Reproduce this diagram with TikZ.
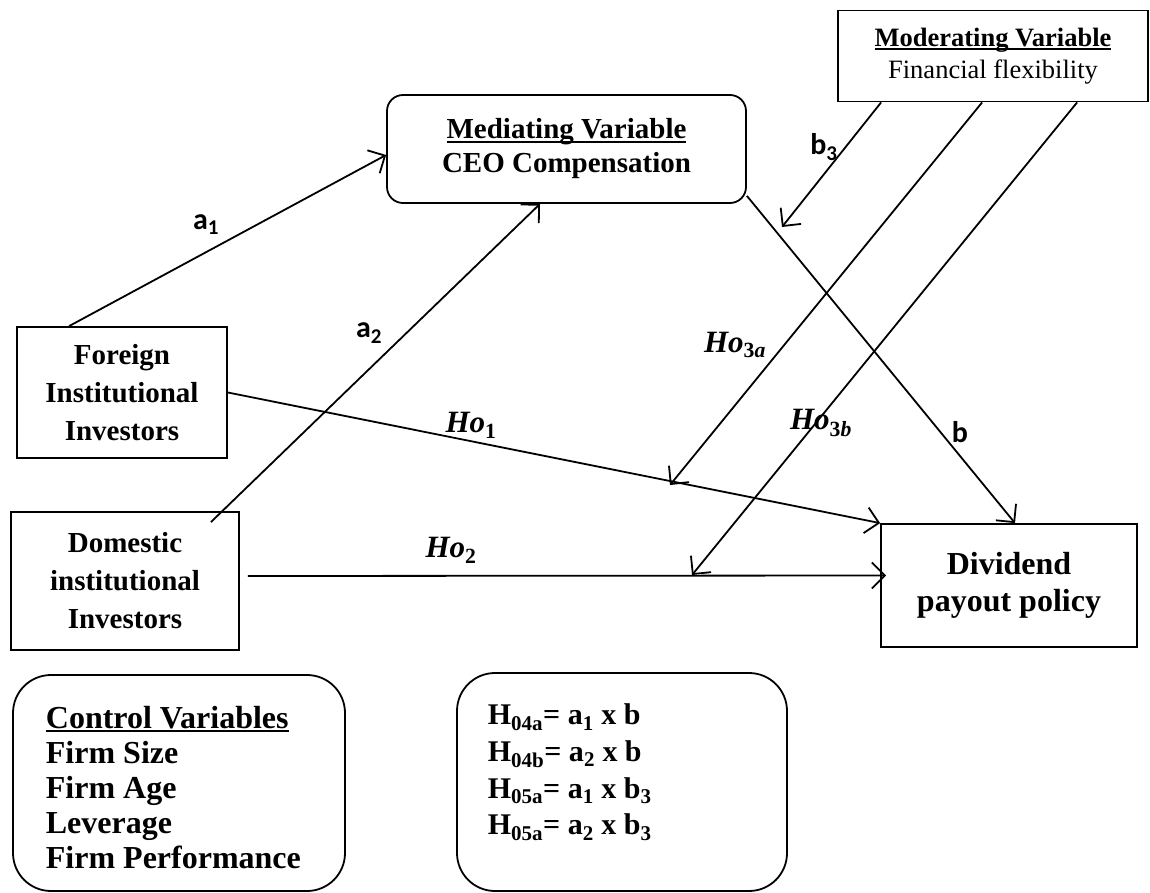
\documentclass[tikz,border=0pt]{standalone}
\usepackage{fontspec}
\setmainfont{Liberation Serif}
\newfontfamily\calfont{Carlito}
\usetikzlibrary{arrows.meta,calc}
\newcommand{\thul}[1]{\setbox0\hbox{#1}\rlap{\rule[-4pt]{\wd0}{2.4pt}}\box0}
\begin{document}
\begin{tikzpicture}[x=1pt,y=-1pt,line width=1.8pt,
  box/.style={draw,inner sep=0pt,align=center},
  rbox/.style={draw,inner sep=0pt,rounded corners=#1},
  arr/.style={-{Straight Barb[length=13pt,width=26pt,line width=1.8pt]}},
  lab/.style={font=\fontsize{30}{34}\selectfont\calfont\bfseries,inner sep=0pt},
  holab/.style={font=\fontsize{31}{36}\selectfont\bfseries\itshape,inner sep=0pt},
  bodyfont/.style={font=\fontsize{29}{38}\selectfont\bfseries}]
\useasboundingbox (0,0) rectangle (1150,893);

% boxes
\node[box,rounded corners=16pt,minimum width=359pt,minimum height=108pt,
      font=\fontsize{29}{34}\selectfont\bfseries] (med) at (566.5,149)
      {\thul{Mediating Variable}\\CEO Compensation};
\node[box,minimum width=310pt,minimum height=91pt,
      font=\fontsize{26.5}{32}\selectfont] (mod) at (993,56)
      {\textbf{\thul{Moderating Variable}}\\Financial flexibility};
\node[box,bodyfont,minimum width=210pt,minimum height=131pt] (fii) at (122,392.5)
      {Foreign\\Institutional\\Investors};
\node[box,bodyfont,minimum width=228pt,minimum height=138pt] (dii) at (125,581)
      {Domestic\\institutional\\Investors};
\node[box,minimum width=256pt,minimum height=123pt,
      font=\fontsize{32}{37}\selectfont\bfseries] (dpp) at (1009,585.5)
      {Dividend\\payout policy};
\node[rbox=38pt,minimum width=332pt,minimum height=216pt] (ctl) at (179,783) {};
\node[anchor=north west,align=left,inner sep=0pt,
      font=\fontsize{32}{35}\selectfont\bfseries] (ctltxt) at (45,705)
      {\thul{Control Variables}\\Firm Size\\Firm Age\\Leverage\\Firm Performance};
\node[rbox=38pt,minimum width=330pt,minimum height=218pt] (hyp) at (622,782) {};
\node[anchor=north west,align=left,inner sep=0pt,
      font=\fontsize{30}{36.7}\selectfont\bfseries] (hyptxt) at (487,703)
      {H\textsubscript{04a}= a\textsubscript{1} x b\\
       H\textsubscript{04b}= a\textsubscript{2} x b\\
       H\textsubscript{05a}= a\textsubscript{1} x b\textsubscript{3}\\
       H\textsubscript{05a}= a\textsubscript{2} x b\textsubscript{3}};

% free ends
\coordinate (b3end) at (782,227);
\coordinate (h3aend) at (670,485);
\coordinate (h3bend) at (692,575);

% connectors
\draw[arr] ($(fii.north west)+(53,0)$) -- ($(med.west)+(0,6)$);
\draw[arr] ($(dii.north east)+(-29,11)$) -- ($(med.south)+(-26.5,0)$);
\draw[arr] (fii.east) -- (dpp.north west);
\draw[arr] ($(dii.east)+(8,-5)$) -- ($(dpp.west)+(6,-10)$);
\draw[arr] ($(med.south east)+(0,-8)$) -- ($(dpp.north)+(6,0)$);
\draw[arr] ($(mod.south west)+(44,0)$) -- (b3end);
\draw[arr] ($(mod.south west)+(145,0)$) -- (h3aend);
\draw[arr] ($(mod.south west)+(240,0)$) -- (h3bend);

% labels
\node[lab] (la1) at (206,225) {a\textsubscript{1}};
\node[lab] (la2) at (369,333) {a\textsubscript{2}};
\node[lab] (lb3) at (824,147) {b\textsubscript{3}};
\node[lab] (lb) at (960,432) {b};
\node[holab] (lh1) at (471,425) {Ho\textsubscript{\upshape 1}};
\node[holab] (lh2) at (451,550) {Ho\textsubscript{\upshape 2}};
\node[holab] (lh3a) at (735,345) {Ho\textsubscript{\upshape 3\itshape a}};
\node[holab] (lh3b) at (821,423) {Ho\textsubscript{\upshape 3\itshape b}};
\end{tikzpicture}
\end{document}
